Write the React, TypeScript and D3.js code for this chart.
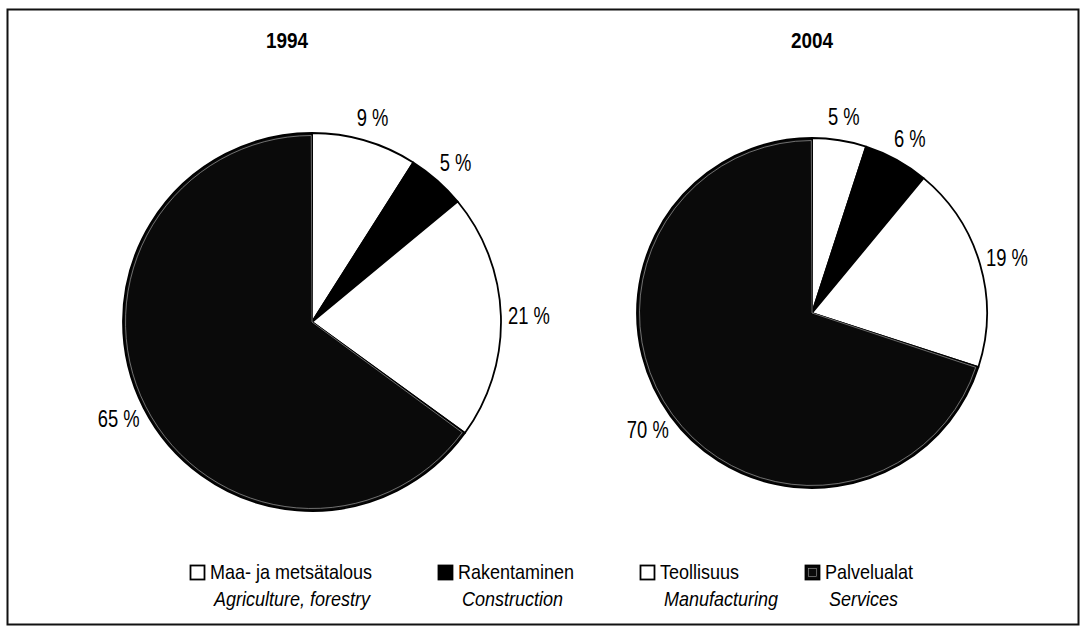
import { useEffect, useRef } from 'react'
import * as d3 from 'd3'

const years = ['1994', '2004']
const sectorsFi = ['Maa- ja metsätalous', 'Rakentaminen', 'Teollisuus', 'Palvelualat']
const sectorsEn = ['Agriculture, forestry', 'Construction', 'Manufacturing', 'Services']
const shares1994 = [9, 5, 21, 65]
const shares2004 = [5, 6, 19, 70]
const sectorFills = ['#ffffff', '#000000', '#ffffff', '#0a0a0a']

const W = 1087
const H = 632
const FONT = '"Liberation Sans", Arial, Helvetica, sans-serif'

export default function App() {
  const ref = useRef<SVGSVGElement>(null)

  useEffect(() => {
    const svg = d3.select(ref.current)
    svg.selectAll('*').remove()

    // frame
    svg.append('rect')
      .attr('x', 7.5).attr('y', 9.5).attr('width', 1071).attr('height', 615)
      .attr('fill', 'none').attr('stroke', '#111').attr('stroke-width', 2)

    const pies = [
      { year: years[0], values: shares1994, cx: 312, cy: 322, r: 189, titleX: 287 },
      { year: years[1], values: shares2004, cx: 812, cy: 313, r: 175, titleX: 812 },
    ]

    const pie = d3.pie<number>().sort(null).value(d => d)

    pies.forEach(p => {
      svg.append('text')
        .attr('transform', `translate(${p.titleX},48) scale(0.86,1)`)
        .attr('text-anchor', 'middle')
        .attr('font-family', FONT).attr('font-weight', 'bold').attr('font-size', 22)
        .text(p.year)

      const g = svg.append('g').attr('transform', `translate(${p.cx},${p.cy})`)
      const arcs = pie(p.values)
      const arc = d3.arc<d3.PieArcDatum<number>>().innerRadius(0).outerRadius(p.r)

      g.selectAll('path.slice').data(arcs).join('path')
        .attr('class', 'slice')
        .attr('d', arc)
        .attr('fill', (_, i) => sectorFills[i])
        .attr('stroke', '#000').attr('stroke-width', 1.8).attr('stroke-linejoin', 'round')

      // light inner rim on the services slice, as in the print
      const services = arcs[3]
      const inner = d3.arc<d3.PieArcDatum<number>>().innerRadius(0).outerRadius(p.r - 2.5)
      g.append('path')
        .attr('d', inner({ ...services, startAngle: services.startAngle + 0.006, endAngle: services.endAngle - 0.004 }))
        .attr('fill', 'none').attr('stroke', '#b5b5b5').attr('stroke-width', 0.6)

      arcs.forEach(a => {
        const mid = (a.startAngle + a.endAngle) / 2
        const R = p.r + 14
        const x = Math.sin(mid) * R + Math.sin(mid) * 14
        const y = -Math.cos(mid) * R - Math.cos(mid) * 10
        g.append('text')
          .attr('transform', `translate(${x},${y}) scale(0.8,1)`)
          .attr('text-anchor', 'middle').attr('dominant-baseline', 'central')
          .attr('font-family', FONT).attr('font-size', 23)
          .text(`${a.data} %`)
      })
    })

    // legend
    const legend = svg.append('g').attr('font-family', FONT).attr('font-size', 20)
    const sx = 0.9
    const gap = 66
    let x = 190
    sectorsFi.forEach((name, i) => {
      const item = legend.append('g').attr('transform', `translate(${x},0)`)
      item.append('rect')
        .attr('x', 0.5).attr('y', 565.5).attr('width', 14).attr('height', 14)
        .attr('fill', sectorFills[i]).attr('stroke', '#000').attr('stroke-width', 1.8)
      if (i === 3) {
        item.append('rect').attr('x', 3.5).attr('y', 568.5).attr('width', 8).attr('height', 8)
          .attr('fill', 'none').attr('stroke', '#999').attr('stroke-width', 0.6)
      }
      const t1 = item.append('text')
        .attr('transform', `translate(20,579) scale(${sx},1)`).text(name)
      item.append('text')
        .attr('transform', `translate(24,606) scale(${sx},1)`)
        .attr('font-style', 'italic').text(sectorsEn[i])
      const w = (t1.node() as SVGTextElement).getComputedTextLength() * sx
      x += 20 + w + gap
    })
  }, [])

  return (
    <div style={{ position: 'absolute', left: 0, top: 0, background: '#fff' }}>
      <svg ref={ref} width={W} height={H} style={{ display: 'block' }} />
    </div>
  )
}
